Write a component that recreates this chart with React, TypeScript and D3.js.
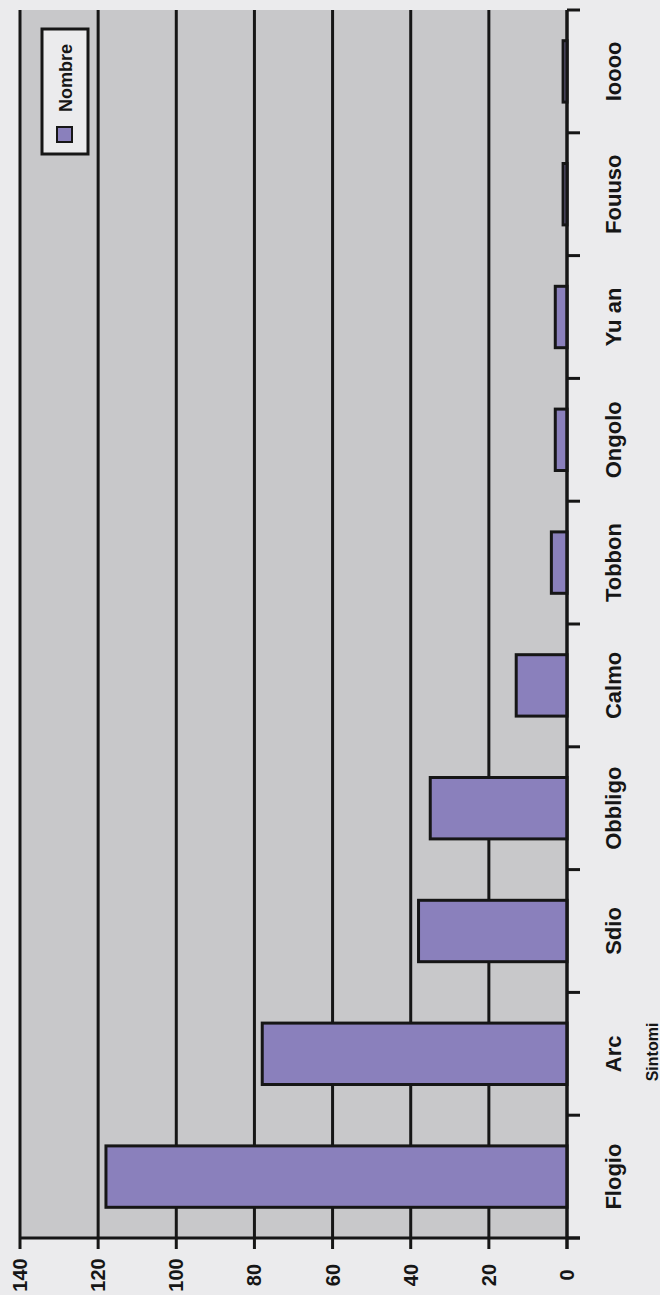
import React from "react";
import * as d3 from "d3";

const categories = ["Flogio", "Arc", "Sdio", "Obbligo", "Calmo", "Tobbon", "Ongolo", "Yu an", "Fouuso", "Ioooo"];
const values = [118, 78, 38, 35, 13, 4, 3, 3, 1, 1];
const valueTicks = [0, 20, 40, 60, 80, 100, 120, 140];
const seriesName = "Nombre";
const axisTitle = "Sintomi";

const W = 660;
const H = 1295;
const plotLeft = 20;
const plotRight = 567;
const plotTop = 10;
const plotBottom = 1238;

const BG = "#ebebed";
const PLOT_BG = "#c8c8ca";
const BAR = "#8a80bc";
const INK = "#161616";
const FONT = "'Liberation Sans', Arial, sans-serif";

export default function App() {
  const x = d3.scaleLinear().domain([0, 140]).range([plotRight, plotLeft]);
  const y = d3
    .scaleBand<string>()
    .domain(categories)
    .range([plotBottom, plotTop])
    .paddingInner(0.5)
    .paddingOuter(0.25);
  const step = y.step();
  const boundaries = d3.range(categories.length + 1).map((i) => plotBottom - i * step);

  return (
    <svg
      width={W}
      height={H}
      style={{ position: "absolute", left: 0, top: 0, display: "block" }}
    >
      <rect x={0} y={0} width={W} height={H} fill={BG} />
      <rect x={plotLeft} y={plotTop} width={plotRight - plotLeft} height={plotBottom - plotTop} fill={PLOT_BG} />
      {valueTicks.map((t) => (
        <line key={"g" + t} x1={x(t)} x2={x(t)} y1={plotTop} y2={plotBottom + 11} stroke={INK} strokeWidth={3} />
      ))}
      {categories.map((c, i) => (
        <rect
          key={c}
          x={x(values[i])}
          y={y(c)!}
          width={x(0) - x(values[i])}
          height={y.bandwidth()}
          fill={BAR}
          stroke={INK}
          strokeWidth={3}
        />
      ))}
      <line x1={plotLeft} x2={plotRight + 13} y1={plotBottom} y2={plotBottom} stroke={INK} strokeWidth={3} />
      <line x1={plotRight} x2={plotRight} y1={plotTop} y2={plotBottom + 11} stroke={INK} strokeWidth={3} />
      {boundaries.map((b, i) => (
        <line key={"t" + i} x1={plotRight} x2={plotRight + 13} y1={b} y2={b} stroke={INK} strokeWidth={3} />
      ))}
      {valueTicks.map((t) => (
        <text
          key={"l" + t}
          transform={`translate(${x(t) + 7},${1275}) rotate(-90)`}
          textAnchor="middle"
          fontFamily={FONT}
          fontWeight="bold"
          fontSize={20}
          fill={INK}
        >
          {t}
        </text>
      ))}
      {categories.map((c) => (
        <text
          key={"c" + c}
          transform={`translate(${621},${y(c)! + y.bandwidth() / 2}) rotate(-90)`}
          textAnchor="middle"
          fontFamily={FONT}
          fontWeight="bold"
          fontSize={22}
          fill={INK}
        >
          {c}
        </text>
      ))}
      <text
        transform={`translate(${658},${1052}) rotate(-90)`}
        textAnchor="middle"
        fontFamily={FONT}
        fontWeight="bold"
        fontSize={16}
        fill={INK}
      >
        {axisTitle}
      </text>
      <rect x={42} y={29} width={46} height={125} fill={BG} stroke={INK} strokeWidth={3} />
      <rect x={57} y={127} width={15} height={15} fill={BAR} stroke={INK} strokeWidth={2} />
      <text
        transform={`translate(${72},${78}) rotate(-90)`}
        textAnchor="middle"
        fontFamily={FONT}
        fontWeight="bold"
        fontSize={18}
        fill={INK}
      >
        {seriesName}
      </text>
    </svg>
  );
}
